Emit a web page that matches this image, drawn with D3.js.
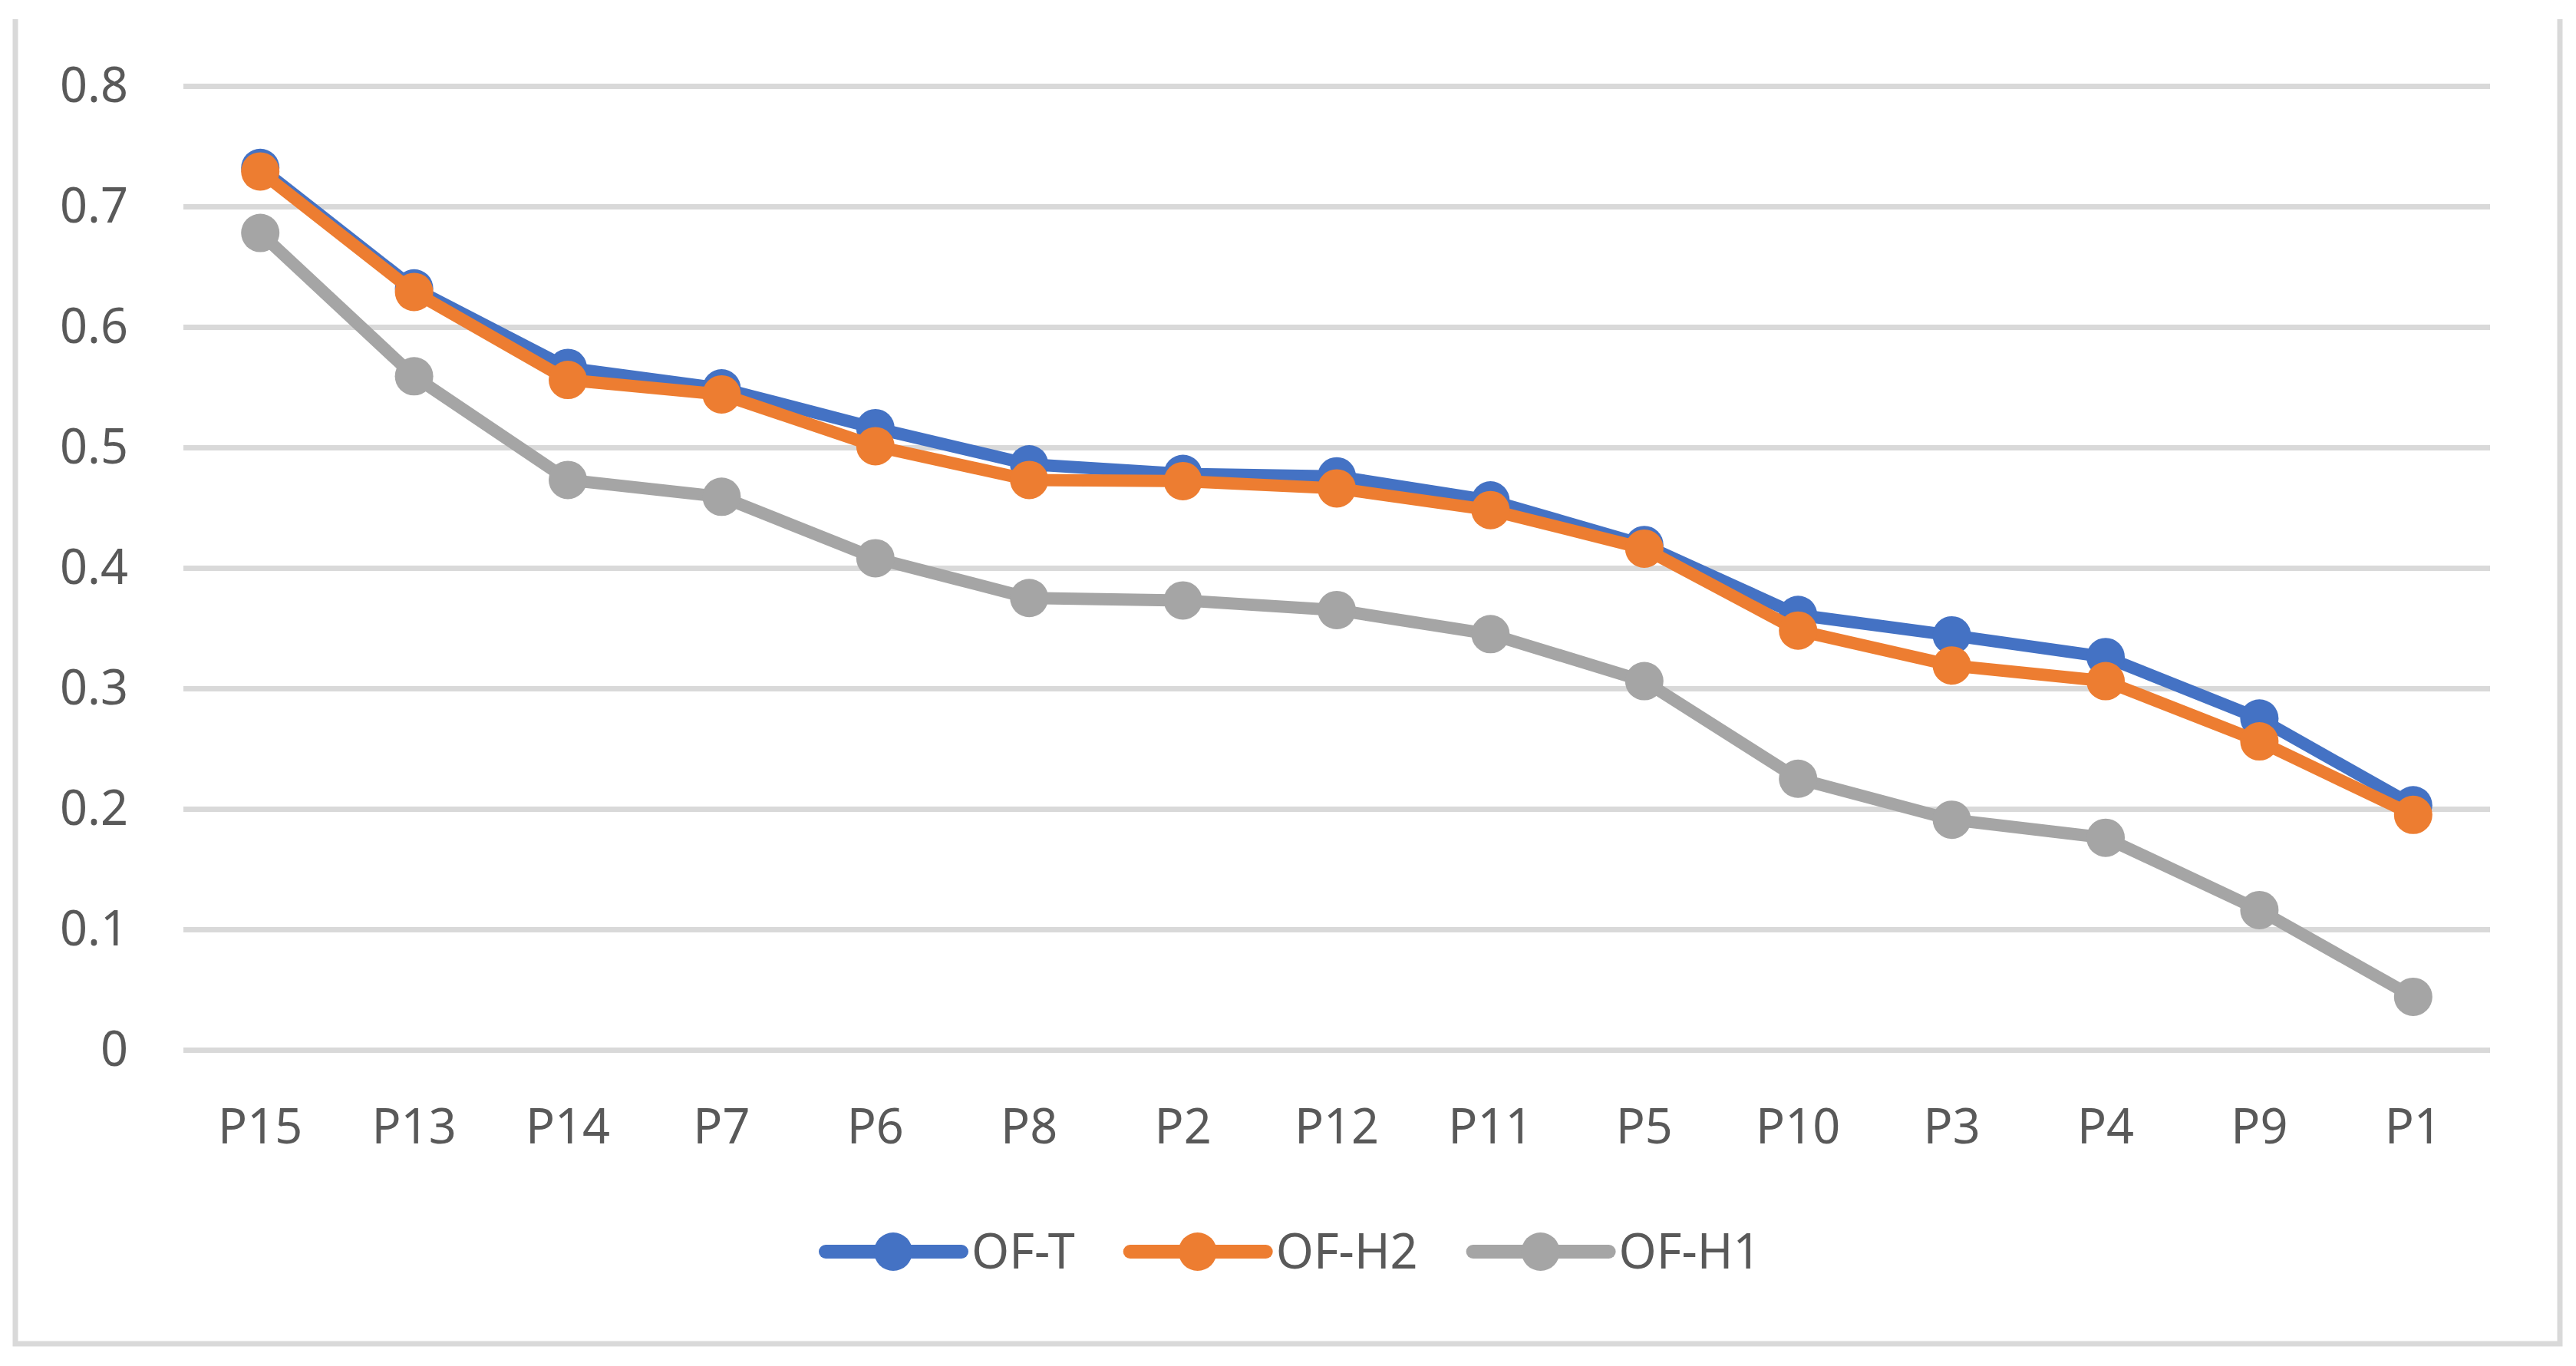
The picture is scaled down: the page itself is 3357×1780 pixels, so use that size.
<!DOCTYPE html>
<html>
    <head>
        <meta charset="utf-8">
        <script src="https://d3js.org/d3.v7.min.js"></script>
        <style>
            body { margin: 0; background: #fff; }
            text { font-family: "Noto Sans", "Open Sans", sans-serif; fill: #595959; }
        </style>
    </head>
    <body>
        <svg width="3357" height="1780"></svg>
        <script>
            // categories along the x axis
            const categories = ["P15", "P13", "P14", "P7", "P6", "P8", "P2", "P12", "P11", "P5", "P10", "P3", "P4", "P9", "P1"];

            // series values
            const ofT  = [0.732, 0.632, 0.566, 0.549, 0.516, 0.486, 0.478, 0.476, 0.456, 0.419, 0.361, 0.344, 0.326, 0.275, 0.203];
            const ofH2 = [0.729, 0.629, 0.556, 0.544, 0.501, 0.473, 0.472, 0.466, 0.448, 0.416, 0.348, 0.319, 0.306, 0.256, 0.195];
            const ofH1 = [0.678, 0.559, 0.473, 0.459, 0.408, 0.375, 0.373, 0.365, 0.345, 0.306, 0.225, 0.191, 0.176, 0.116, 0.044];

            const seriesNames = ["OF-T", "OF-H2", "OF-H1"];
            const yTicks = [0, 0.1, 0.2, 0.3, 0.4, 0.5, 0.6, 0.7, 0.8];

            const colors = ["#4472c4", "#ed7d31", "#a5a5a5"];
            const series = seriesNames.map((name, i) => ({ name: name, values: [ofT, ofH2, ofH1][i], color: colors[i] }));

            let svg = d3.select("svg");

            // chart frame (no top edge in the original)
            svg.append("path")
                .attr("d", "M20,25 V1751 H3336 V25")
                .attr("fill", "none")
                .attr("stroke", "#d9d9d9")
                .attr("stroke-width", 7);

            // scales
            let xScale = d3.scaleBand()
                .domain(categories)
                .range([239, 3245]);

            let yScale = d3.scaleLinear()
                .domain([0, 0.8])
                .range([1368, 112]);

            // gridlines
            let grid = d3.axisLeft(yScale)
                .tickValues(yTicks)
                .tickSize(-(3245 - 239))
                .tickFormat("");
            svg.append("g")
                .attr("transform", "translate(239,0)")
                .call(grid)
                .call(g => g.select(".domain").remove())
                .selectAll("line")
                .attr("stroke", "#d9d9d9")
                .attr("stroke-width", 7);

            // y labels
            let leftAxis = d3.axisLeft(yScale)
                .tickValues(yTicks)
                .tickSize(0)
                .tickPadding(72)
                .tickFormat(d => d === 0 ? "0" : d3.format(".1f")(d));
            svg.append("g")
                .attr("transform", "translate(239,0)")
                .call(leftAxis)
                .call(g => g.select(".domain").remove())
                .selectAll("text")
                .attr("font-size", 63)
                .attr("font-family", null)
                .attr("fill", "#595959");

            // x labels
            let bottomAxis = d3.axisBottom(xScale)
                .tickSize(0)
                .tickPadding(77);
            svg.append("g")
                .attr("transform", "translate(0,1368)")
                .call(bottomAxis)
                .call(g => g.select(".domain").remove())
                .selectAll("text")
                .attr("font-size", 63)
                .attr("font-family", null)
                .attr("fill", "#595959");

            // lines and markers
            let lineGen = d3.line()
                .x((d, i) => xScale(categories[i]) + xScale.bandwidth() / 2)
                .y(d => yScale(d));

            series.forEach(s => {
                let g = svg.append("g");
                g.append("path")
                    .datum(s.values)
                    .attr("fill", "none")
                    .attr("stroke", s.color)
                    .attr("stroke-width", 16)
                    .attr("stroke-linejoin", "round")
                    .attr("d", lineGen);
                g.selectAll("circle").data(s.values).join("circle")
                    .attr("cx", (d, i) => xScale(categories[i]) + xScale.bandwidth() / 2)
                    .attr("cy", d => yScale(d))
                    .attr("r", 25)
                    .attr("fill", s.color);
            });

            // legend: items laid out one after another, like Excel does
            let legend = svg.append("g").attr("transform", "translate(0,1631)");
            let x0 = 1076;
            series.forEach(s => {
                let item = legend.append("g").attr("transform", `translate(${x0},0)`);
                item.append("line")
                    .attr("x1", 0).attr("x2", 177)
                    .attr("y1", 0).attr("y2", 0)
                    .attr("stroke", s.color)
                    .attr("stroke-width", 18)
                    .attr("stroke-linecap", "round");
                item.append("circle")
                    .attr("cx", 88).attr("cy", 0)
                    .attr("r", 25)
                    .attr("fill", s.color);
                let label = item.append("text")
                    .attr("x", 190)
                    .attr("y", 0)
                    .attr("dy", "0.35em")
                    .attr("font-size", 63)
                    .text(s.name);
                x0 += 190 + label.node().getComputedTextLength() + 72;
            });
        </script>
    </body>
</html>
